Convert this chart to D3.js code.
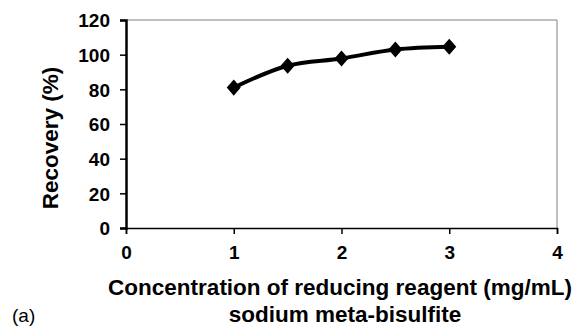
<!DOCTYPE html>
<html>
<head>
<meta charset="utf-8">
<script src="https://cdn.jsdelivr.net/npm/d3@7"></script>
<style>
  body { margin: 0; background: #fff; }
  svg { font-family: "Liberation Sans", Arial, sans-serif; }
</style>
</head>
<body>
<div id="chart"></div>
<script>
const conc = [1, 1.5, 2, 2.5, 3];
const recovery = [81, 93.6, 97.8, 103, 104.6];
const xTicks = [0, 1, 2, 3, 4];
const yTicks = [0, 20, 40, 60, 80, 100, 120];

const width = 578;
const height = 326;
const margin = {left: 126, right: 21, top: 20, bottom: 98};

const svg = d3.select("#chart")
    .append("svg")
    .attr("width", width)
    .attr("height", height);

const x = d3.scaleLinear().domain([0, 4]).range([margin.left, width - margin.right]);
const y = d3.scaleLinear().domain([0, 120]).range([height - margin.bottom, margin.top]);

// plot border (top/right grey)
svg.append("path")
    .attr("d", `M${x(0)},${y(120)}H${x(4)}V${y(0)}`)
    .attr("fill", "none")
    .attr("stroke", "#808080")
    .attr("stroke-width", 1);

const xAxis = svg.append("g")
    .attr("transform", "translate(0," + y(0) + ")")
    .call(d3.axisBottom(x).tickValues(xTicks).tickSize(6).tickPadding(12).tickFormat(d3.format("d")));
xAxis.select(".domain").attr("stroke", "#000").attr("stroke-width", 1.5);

const yAxis = svg.append("g")
    .attr("transform", "translate(" + x(0) + ",0)")
    .call(d3.axisLeft(y).tickValues(yTicks).tickSize(6).tickPadding(10));
yAxis.select(".domain").attr("stroke", "#000").attr("stroke-width", 2.5);

svg.selectAll(".tick line").attr("stroke", "#000").attr("stroke-width", 1.5);
svg.selectAll(".tick text")
    .style("font-family", "'Liberation Sans', Arial, sans-serif")
    .style("font-size", "19px")
    .style("font-weight", "bold")
    .attr("fill", "#000");
yAxis.selectAll(".tick text").attr("dy", "0.36em");

const pts = conc.map((c, i) => [x(c), y(recovery[i])]);

svg.append("path")
    .attr("d", d3.line().curve(d3.curveCatmullRom.alpha(0.5))(pts))
    .attr("fill", "none")
    .attr("stroke", "#000")
    .attr("stroke-width", 4);

svg.selectAll(".marker")
    .data(pts)
    .enter()
    .append("path")
    .attr("class", "marker")
    .attr("transform", d => "translate(" + d[0] + "," + d[1] + ") scale(1,1.15)")
    .attr("d", d3.symbol().type(d3.symbolDiamond2).size(125))
    .attr("fill", "#000");

svg.append("text")
    .attr("transform", "translate(58,138) rotate(-90)")
    .attr("text-anchor", "middle")
    .style("font-size", "22.5px")
    .style("font-weight", "bold")
    .text("Recovery (%)");

svg.append("text")
    .attr("x", 340)
    .attr("y", 295)
    .attr("text-anchor", "middle")
    .style("font-size", "22.5px")
    .style("font-weight", "bold")
    .text("Concentration of reducing reagent (mg/mL)");

svg.append("text")
    .attr("x", 345)
    .attr("y", 322)
    .attr("text-anchor", "middle")
    .style("font-size", "22.5px")
    .style("font-weight", "bold")
    .text("sodium meta-bisulfite");

svg.append("text")
    .attr("x", 12)
    .attr("y", 322)
    .style("font-size", "19px")
    .text("(a)");
</script>
</body>
</html>
